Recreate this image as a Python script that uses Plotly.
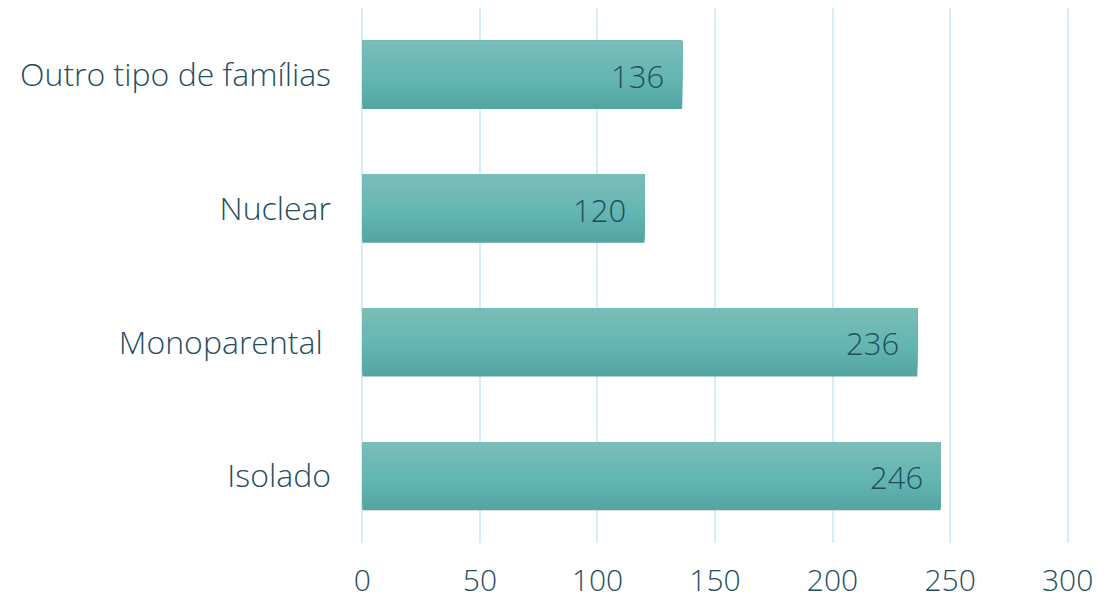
import plotly.graph_objects as go

categories = ["Isolado", "Monoparental\u00a0", "Nuclear", "Outro tipo de famílias"]
values = [246, 236, 120, 136]
x_ticks = [0, 50, 100, 150, 200, 250, 300]

TEXT = "#1f4e5f"
GRID = "#d4edf8"
FONT = "Open Sans"

def lerp(c1, c2, t):
    return tuple(round(a + (b - a) * t) for a, b in zip(c1, c2))

top_c = (0x7B, 0xBD, 0xB8)
mid_c = (0x63, 0xB6, 0xB2)
bot_c = (0x54, 0xA5, 0xA2)

def grad(f):  # f: 0 bottom -> 1 top
    if f < 0.45:
        return lerp(bot_c, mid_c, f / 0.45)
    return lerp(mid_c, top_c, (f - 0.45) / 0.55)

fig = go.Figure()
N = 30
total = 0.51
h = total / N
for i in range(N):
    c = grad(i / (N - 1))
    fig.add_trace(go.Bar(
        y=categories, x=values, orientation="h",
        offset=-total / 2 + i * h, width=total - i * h,
        marker=dict(color="rgb(%d,%d,%d)" % c, line=dict(width=0)),
        hoverinfo="skip", showlegend=False,
    ))

for cat, v in zip(categories, values):
    fig.add_annotation(x=v, y=cat, text=str(v), showarrow=False,
                       xanchor="right", xshift=-16, yshift=-1,
                       font=dict(family=FONT, size=31, color=TEXT, weight=300))

fig.update_layout(
    width=1119, height=600,
    margin=dict(l=360, r=49, t=8, b=57),
    barmode="overlay",
    plot_bgcolor="white", paper_bgcolor="white",
    font=dict(family=FONT, color=TEXT, weight=300),
)
fig.update_xaxes(range=[-1, 301], tickvals=x_ticks, showgrid=True, gridcolor=GRID,
                 gridwidth=2, zeroline=False, showline=False, automargin=False,
                 tickfont=dict(family=FONT, size=30, color=TEXT, weight=300),
                 ticklabelstandoff=17)
fig.update_yaxes(categoryorder="array", categoryarray=categories, showgrid=False,
                 zeroline=False, showline=False, automargin=False,
                 tickfont=dict(family=FONT, size=32, color=TEXT, weight=300),
                 ticklabelstandoff=28)

fig.write_html("out.html")
